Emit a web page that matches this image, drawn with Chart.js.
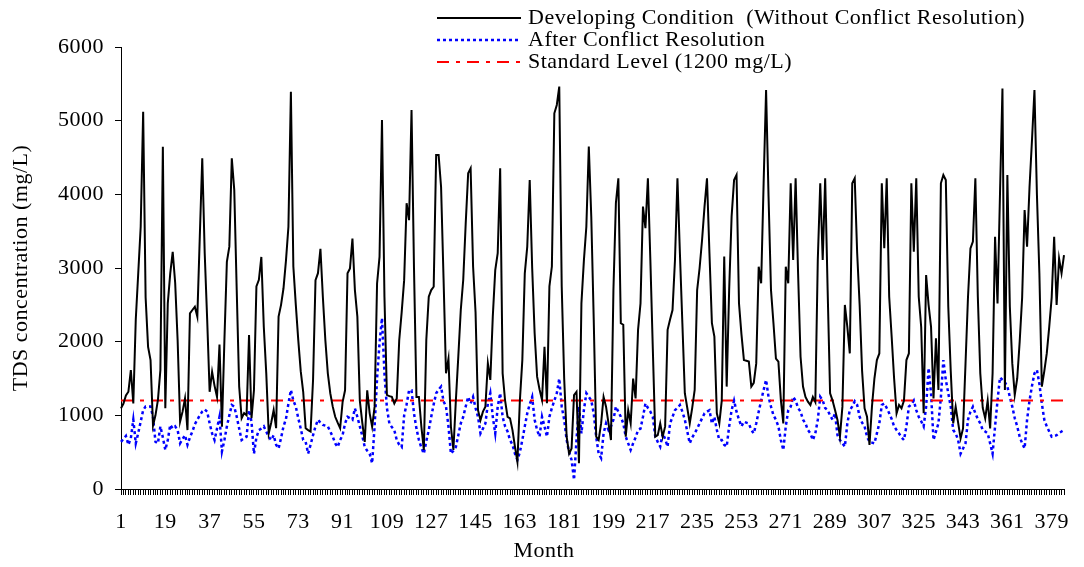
<!DOCTYPE html>
<html>
<head>
<meta charset="utf-8">
<script src="https://cdn.jsdelivr.net/npm/chart.js@4.4.1/dist/chart.umd.min.js"></script>
<style>
html,body{margin:0;padding:0;background:#fff;}
#wrap{width:1084px;height:567px;}
</style>
</head>
<body>
<div id="wrap"><canvas id="chart" width="1084" height="567"></canvas></div>
<script>
const months = Array.from({length: 384}, (_, i) => String(i + 1));

const tickLabels = ["1","19","37","55","73","91","109","127","145","163","181",
"199","217","235","253","271","289","307","325","343","361","379"];

const standardLevel = 1200;

// TDS, mg/L, month 1..384
const developing = [
1095,1160,1270,1320,1615,1160,2300,2928,3560,5120,
2600,1930,1750,860,1000,1210,1615,4647,1095,2520,
2928,3220,2800,2020,915,1050,1230,800,2385,2430,
2475,2340,3425,4490,3200,2300,1320,1590,1400,1250,
1960,845,2020,3085,3290,4490,4060,
2700,1390,960,1030,1000,2090,960,1340,2750,2840,
3150,2200,1570,755,900,1070,825,2340,2500,2725,
3100,3560,5393,3020,2500,2020,1600,1320,825,800,
780,1480,2835,2930,3260,2600,2020,1570,1300,1118,
980,900,825,1180,1340,2928,2995,3400,
2700,2340,1200,900,640,1340,1027,845,1118,2790,
3150,5010,2610,1277,1260,1250,1160,1230,2020,2400,
2835,3880,3650,5146,3000,1250,1250,845,530,2022,
2610,2700,2745,4535,4535,4100,2860,1570,1770,845,
530,1200,1800,2430,2840,3600,4285,4353,3020,
2400,1070,935,1050,1118,1705,1480,2340,2970,3200,
4353,1570,1200,980,960,800,575,370,1200,1750,
2928,3290,4195,3000,2114,1525,1350,1210,1932,1163,
2750,3020,5100,5213,5462,2750,1500,710,480,550,
1276,1320,350,2520,3100,3560,4650,3700,2300,
710,665,890,1250,1118,891,665,2700,3880,4218,
2250,2230,710,1070,890,1500,1230,2160,2520,3833,
3540,4218,3108,1900,710,730,890,710,850,2160,
2300,2430,3108,4218,3200,2250,1300,1100,890,1100,
1344,2700,3000,3380,3833,4218,3200,2250,
2068,1027,890,1200,3155,1390,2700,3700,4195,4263,
2520,2100,1750,1740,1730,1390,1440,1705,3018,2793,
4150,5416,3970,2700,2250,1770,1730,1210,890,3018,
2793,4150,3108,4218,2928,1795,1390,1250,1185,1140,
1250,1180,3108,4150,3108,4218,2700,1300,1200,
1072,936,710,1118,2498,2200,1840,4150,4218,3200,
2500,1600,1095,980,598,1118,1500,1750,1840,4150,
3267,4218,2610,2070,1500,1027,1140,1095,1200,1750,
1840,4150,3220,4218,2610,2200,1027,2905,2500,2200,
1230,2045,1344,4150,4263,4195,2475,1600,890,
1118,900,687,823,1700,2600,3267,3358,4218,2610,
1570,1100,960,1200,823,1570,3425,2520,4000,5438,
1344,4263,2475,1705,1277,1500,2000,2600,3788,3290,
4100,4738,5416,4000,2928,1390,1600,1840,2200,2600,
3425,2498,3130,2928,3176
];

const afterResolution = [
640,680,720,600,690,940,620,760,915,1070,
1120,1120,1120,980,640,620,850,700,530,665,
870,820,850,800,620,680,730,600,700,780,
880,940,1000,1050,1080,1050,890,755,665,820,
980,510,665,850,1000,1140,1118,
980,820,665,690,710,1070,915,480,700,800,
820,850,780,710,665,730,600,550,690,850,
950,1160,1344,1200,1118,960,820,665,640,480,
600,730,850,940,900,870,860,850,780,710,
620,570,665,730,890,980,960,940,
1095,980,850,720,570,520,480,350,850,1500,
1980,2320,1570,1100,890,840,800,665,600,570,
1000,1150,1340,1340,1027,820,665,560,480,650,
800,980,1150,1300,1350,1390,1190,1120,850,480,
520,570,730,890,980,1120,1250,1160,1250,
1100,980,755,820,890,1160,1300,980,755,1118,
1300,980,850,780,665,600,480,395,500,665,
850,1027,1150,1250,940,800,710,980,850,710,
980,1100,1200,1300,1500,1118,940,665,500,395,
125,665,1118,755,1070,1300,1250,1200,1027,
710,480,420,755,890,800,850,940,1118,1050,
980,890,710,620,530,620,700,800,820,980,
1160,1100,1050,980,710,640,575,755,680,575,
890,980,1070,1100,1140,1050,940,780,620,700,
755,820,890,960,1027,1050,1070,890,
980,800,665,665,600,575,850,1070,1200,1050,
940,850,915,900,890,800,755,890,1050,1200,
1344,1480,1250,1118,1000,940,850,665,530,850,
1070,1118,1250,1200,1100,1050,940,890,800,755,
665,755,940,1250,1200,1100,1070,1000,940,
1027,730,665,620,575,890,1070,1120,1190,1140,
980,900,850,710,640,630,620,755,890,1140,
1160,1100,1027,950,850,800,755,700,665,850,
1118,1150,1200,1070,980,920,850,1118,1640,1300,
665,780,890,1250,1750,1480,1300,1118,800,
755,665,480,550,620,940,1050,1118,1027,950,
890,800,780,755,620,480,850,1200,1515,1480,
1450,1390,1250,1118,960,850,710,620,550,940,
1200,1400,1570,1615,1430,1160,940,850,780,710,
720,730,760,780,800
];

const serif = "'Liberation Serif', 'Times New Roman', serif";
const legendOrder = [0, 2, 1];

// legend in three rows top right, x title drawn left of centre like the original
const textPlugin = {
  id: "rowLegend",
  beforeDraw(c) {
    c.ctx.letterSpacing = "0.5px";
  },
  afterDraw(c) {
    const ctx = c.ctx;
    ctx.save();
    ctx.letterSpacing = "0.5px";
    ctx.font = "22px " + serif;
    ctx.textBaseline = "middle";
    ctx.fillStyle = "#000";
    legendOrder.forEach((idx, row) => {
      const ds = c.data.datasets[idx];
      const y = 18 + row * 22;
      ctx.beginPath();
      ctx.strokeStyle = ds.borderColor;
      ctx.lineWidth = ds.borderWidth;
      ctx.setLineDash(ds.borderDash || []);
      ctx.moveTo(437, y);
      ctx.lineTo(521, y);
      ctx.stroke();
      ctx.setLineDash([]);
      ctx.fillText(ds.label, 528, y);
    });
    ctx.textAlign = "center";
    ctx.fillText("Month", 544, 551);
    ctx.restore();
  }
};

const ctx = document.getElementById("chart").getContext("2d");

new Chart(ctx, {
  type: "line",
  data: {
    labels: months,
    datasets: [
      {label: "Developing Condition  (Without Conflict Resolution)", data: developing,
        borderColor: "#000000", borderWidth: 2, pointRadius: 0, tension: 0, fill: false},
      {label: "Standard Level (1200 mg/L)", data: months.map(() => standardLevel),
        borderColor: "#ff0000", borderWidth: 2, borderDash: [12, 7, 4, 7], pointRadius: 0, fill: false},
      {label: "After Conflict Resolution", data: afterResolution,
        borderColor: "#0000ff", borderWidth: 2.5, borderDash: [3, 3], pointRadius: 0, tension: 0, fill: false}
    ]
  },
  options: {
    responsive: false,
    animation: false,
    layout: {padding: {left: 0, top: 47, right: 20, bottom: 0}},
    plugins: {legend: {display: false}, tooltip: {enabled: false}},
    scales: {
      x: {
        offset: false,
        afterFit: s => { s.height = 78; },
        grid: {drawOnChartArea: false, drawTicks: true, tickLength: 6, color: "#000"},
        border: {display: true, color: "#000", width: 1},
        ticks: {
          autoSkip: false, maxRotation: 0, minRotation: 0, padding: 14,
          color: "#000", font: {family: serif, size: 22},
          callback: (v, i) => tickLabels.includes(months[i]) ? months[i] : ""
        },
        title: {display: false}
      },
      y: {
        min: 0, max: 6000,
        afterFit: s => { s.width = 121; },
        grid: {drawOnChartArea: false, drawTicks: true, tickLength: 6, color: "#000"},
        border: {display: true, color: "#000", width: 1},
        ticks: {stepSize: 1000, padding: 11, color: "#000", font: {family: serif, size: 22},
          callback: v => String(v)},
        title: {display: true, text: "TDS concentration (mg/L)", color: "#000",
          font: {family: serif, size: 22}, padding: {top: 8, bottom: 0}}
      }
    }
  },
  plugins: [textPlugin]
});
</script>
</body>
</html>
